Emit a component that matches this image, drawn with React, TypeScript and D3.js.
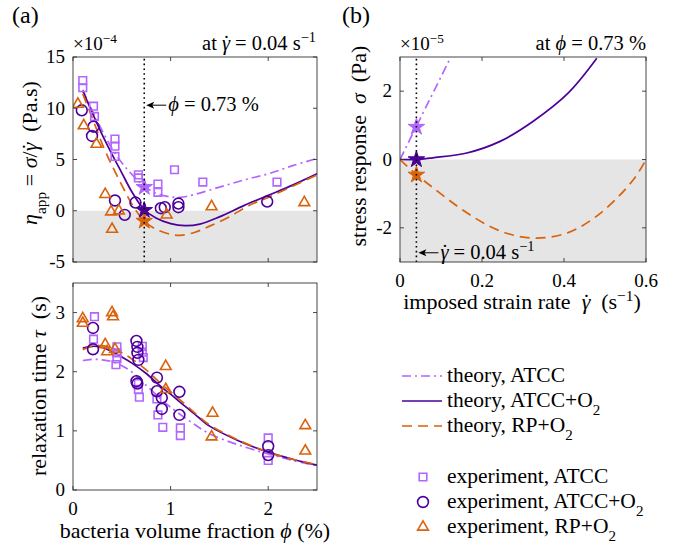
import { useEffect, useRef } from 'react';
import * as d3 from 'd3';

type Pt = [number, number];

// (a) top: apparent viscosity at strain rate 0.04 s^-1, in units of 1e-4 Pa.s
const etaExpATCC: Pt[] = [
  [0.10, 12.7], [0.10, 12.0], [0.21, 10.2], [0.22, 9.2], [0.43, 7.0], [0.43, 6.3],
  [0.43, 5.3], [0.67, 3.5], [0.67, 3.2], [0.87, 2.6], [0.87, 1.8], [1.04, 4.0],
  [1.33, 2.8], [2.09, 2.8]
];
const etaExpATCCO2: Pt[] = [
  [0.09, 9.8], [0.21, 8.2], [0.195, 7.3], [0.43, 1.0], [0.53, -0.4], [0.64, 0.8],
  [0.90, 0.25], [0.94, 0.35], [1.08, 0.7], [1.08, 0.35], [1.99, 0.9]
];
const etaExpRPO2: Pt[] = [
  [0.05, 10.4], [0.11, 8.3], [0.24, 6.5], [0.33, 1.6], [0.39, -0.1], [0.47, 0.0],
  [0.40, -1.8], [0.96, -0.4], [1.42, 0.4], [2.37, 0.8]
];
const etaTheoryATCC: Pt[] = [
  [0.1, 11.8], [0.2, 9.7], [0.3, 7.8], [0.43, 5.6], [0.55, 4.1], [0.66, 3.0], [0.73, 2.4],
  [0.85, 1.7], [1.0, 1.35], [1.1, 1.3], [1.25, 1.6], [1.5, 2.3], [1.75, 3.0], [2.0, 3.6],
  [2.25, 4.4], [2.5, 5.1]
];
const etaTheoryATCCO2: Pt[] = [
  [0.1, 11.7], [0.2, 9.5], [0.3, 7.4], [0.4, 5.5], [0.5, 3.7], [0.6, 1.9], [0.73, 0.1],
  [0.85, -0.7], [1.0, -1.25], [1.15, -1.45], [1.3, -1.3], [1.5, -0.6], [1.75, 0.5],
  [2.0, 1.5], [2.25, 2.5], [2.5, 3.6]
];
const etaTheoryRPO2: Pt[] = [
  [0.1, 11.4], [0.2, 9.0], [0.3, 6.5], [0.4, 4.4], [0.5, 2.5], [0.6, 0.7], [0.73, -1.0],
  [0.85, -1.8], [1.0, -2.3], [1.1, -2.4], [1.25, -2.1], [1.4, -1.5], [1.6, -0.6],
  [1.8, 0.5], [2.0, 1.3], [2.25, 2.4], [2.5, 3.5]
];
const etaStars: Pt[] = [[0.73, 2.3], [0.73, 0.05], [0.73, -1.0]];

// (a) bottom: relaxation time (s)
const tauExpATCC: Pt[] = [
  [0.22, 2.93], [0.21, 2.55], [0.45, 2.42], [0.45, 2.32], [0.45, 2.22], [0.44, 2.12],
  [0.71, 2.43], [0.71, 2.33], [0.72, 2.24], [0.67, 1.80], [0.67, 1.70], [0.68, 1.57],
  [0.86, 1.54], [0.87, 1.27], [0.92, 1.06], [1.10, 1.05], [1.10, 0.92], [2.0, 0.88],
  [2.0, 0.5]
];
const tauExpATCCO2: Pt[] = [
  [0.205, 2.74], [0.205, 2.38], [0.65, 2.52], [0.66, 2.42], [0.66, 2.32], [0.67, 2.20],
  [0.65, 1.84], [0.66, 1.80], [0.86, 1.90], [0.86, 1.67], [0.91, 1.56], [0.91, 1.37],
  [1.09, 1.66], [1.09, 1.27], [2.0, 0.74], [2.0, 0.59]
];
const tauExpRPO2: Pt[] = [
  [0.10, 2.90], [0.10, 2.82], [0.40, 3.0], [0.41, 2.93], [0.33, 2.46], [0.35, 2.34],
  [0.43, 2.38], [0.95, 2.09], [0.95, 1.70], [1.43, 1.30], [1.42, 0.90], [2.38, 1.09],
  [2.38, 0.66]
];
const tauTheoryATCC: Pt[] = [
  [0.1, 2.19], [0.2, 2.21], [0.3, 2.20], [0.4, 2.17], [0.5, 2.10], [0.6, 2.00], [0.75, 1.77],
  [0.9, 1.54], [1.0, 1.40], [1.2, 1.16], [1.4, 0.95], [1.7, 0.76], [2.0, 0.61], [2.25, 0.50],
  [2.5, 0.41]
];
const tauTheoryATCCO2: Pt[] = [
  [0.1, 2.40], [0.2, 2.43], [0.3, 2.41], [0.4, 2.34], [0.5, 2.25], [0.6, 2.15], [0.75, 1.97],
  [0.9, 1.75], [1.0, 1.62], [1.1, 1.48], [1.25, 1.28], [1.4, 1.08], [1.7, 0.83], [2.0, 0.64],
  [2.25, 0.52], [2.5, 0.42]
];
const tauTheoryRPO2: Pt[] = [
  [0.1, 2.37], [0.2, 2.44], [0.3, 2.44], [0.4, 2.40], [0.5, 2.32], [0.6, 2.22], [0.75, 2.03],
  [0.9, 1.80], [1.0, 1.66], [1.1, 1.52], [1.25, 1.30], [1.4, 1.10], [1.7, 0.84], [2.0, 0.64],
  [2.25, 0.52], [2.5, 0.43]
];

// (b): stress response at phi = 0.73 %, in units of 1e-5 Pa
const sigmaTheoryATCC: Pt[] = [[0, 0], [0.04, 0.97], [0.124, 3.0]];
const sigmaTheoryATCCO2: Pt[] = [
  [0, 0], [0.04, 0.0], [0.08, 0.05], [0.163, 0.19], [0.244, 0.53], [0.325, 1.12],
  [0.41, 1.94], [0.48, 2.96]
];
const sigmaTheoryRPO2: Pt[] = [
  [0, 0], [0.04, -0.44], [0.081, -0.83], [0.163, -1.56], [0.244, -2.09], [0.325, -2.3],
  [0.41, -2.14], [0.49, -1.56], [0.57, -0.58], [0.6, 0]
];
const sigmaStars: Pt[] = [[0.04, 0.95], [0.04, 0.0], [0.04, -0.45]];

const phiMark = 0.73;
const rateMark = 0.04;

const colorATCC = '#b266ff';
const colorATCCO2 = '#4c0099';
const colorRPO2 = '#d9620b';
const seriesColors = [colorATCC, colorATCCO2, colorRPO2];
const dashes = ['9,4,2,4', null, '10,6'];
const FONT = "'Liberation Serif', 'DejaVu Serif', serif";
const FS = 19;   // tick labels
const FL = 22;   // axis labels
const FG = 21.5; // legend
const FH = 20.5; // headers and notes

type Part = { t: string; i?: boolean; sup?: boolean; sub?: boolean; dot?: boolean };

function rich(sel: any, parts: Part[], size: number) {
  parts.forEach(p => {
    const ts = sel.append('tspan').text(p.t);
    if (p.i) ts.attr('font-style', 'italic');
    if (p.sup) ts.attr('baseline-shift', 'super').attr('font-size', size * 0.7);
    if (p.sub) ts.attr('baseline-shift', 'sub').attr('font-size', size * 0.7);
    if (p.dot) {
      // dot accent over the previous glyph
      sel.append('tspan').attr('dx', '-0.34em').text('˙');
    }
  });
}

const gdot: Part = { t: 'γ', i: true, dot: true };

export default function App() {
  const svgRef = useRef<SVGSVGElement>(null);

  useEffect(() => {
    if (!svgRef.current) return;
    const svg = d3.select(svgRef.current);
    svg.selectAll('*').remove();
    svg.attr('fill', '#000');

    const defs = svg.append('defs');
    const symSquare = d3.symbol().type(d3.symbolSquare).size(58);
    const symCircle = d3.symbol().type(d3.symbolCircle).size(92);
    const symTriangle = d3.symbol().type(d3.symbolTriangle).size(50);
    const symStar = d3.symbol().type(d3.symbolStar).size(85);
    const markerSyms = [symSquare, symCircle, symTriangle];

    function panel(id: string, box: [number, number, number, number], xDom: [number, number], yDom: [number, number],
      xTicks: number[], yTicks: number[], xLabels: boolean, xFmt: (d: number) => string, yFmt: (d: number) => string,
      shadeNegative: boolean) {
      const [x0, y0, x1, y1] = box;
      const x = d3.scaleLinear().domain(xDom).range([x0, x1]);
      const y = d3.scaleLinear().domain(yDom).range([y1, y0]);
      const g = svg.append('g');
      g.append('rect').attr('x', x0).attr('y', y0).attr('width', x1 - x0).attr('height', y1 - y0).attr('fill', '#fff');
      if (shadeNegative) {
        g.append('rect').attr('x', x0).attr('y', y(0)).attr('width', x1 - x0).attr('height', y1 - y(0))
          .attr('fill', '#e5e5e5');
      }
      defs.append('clipPath').attr('id', id).append('rect')
        .attr('x', x0).attr('y', y0).attr('width', x1 - x0).attr('height', y1 - y0);
      const plot = g.append('g').attr('clip-path', `url(#${id})`);
      const frame = svg.append('g').attr('stroke', '#333').attr('stroke-width', 0.9);
      xTicks.forEach(t => {
        frame.append('line').attr('x1', x(t)).attr('x2', x(t)).attr('y1', y1).attr('y2', y1 - 4);
        frame.append('line').attr('x1', x(t)).attr('x2', x(t)).attr('y1', y0).attr('y2', y0 + 4);
      });
      yTicks.forEach(t => {
        frame.append('line').attr('x1', x0).attr('x2', x0 + 4).attr('y1', y(t)).attr('y2', y(t));
        frame.append('line').attr('x1', x1).attr('x2', x1 - 4).attr('y1', y(t)).attr('y2', y(t));
      });
      frame.append('rect').attr('x', x0).attr('y', y0).attr('width', x1 - x0).attr('height', y1 - y0)
        .attr('fill', 'none');
      yTicks.forEach(t => {
        svg.append('text').attr('x', x0 - 8).attr('y', y(t)).attr('dy', '0.33em')
          .attr('text-anchor', 'end').attr('font-size', FS).text(yFmt(t));
      });
      if (xLabels) {
        xTicks.forEach(t => {
          svg.append('text').attr('x', x(t)).attr('y', y1 + 25)
            .attr('text-anchor', 'middle').attr('font-size', FS).text(xFmt(t));
        });
      }
      return { x, y, plot };
    }

    function curves(p: any, data: Pt[][]) {
      const line = d3.line<Pt>().x(d => p.x(d[0])).y(d => p.y(d[1])).curve(d3.curveCatmullRom.alpha(0.5));
      data.forEach((d, i) => {
        const path = p.plot.append('path').datum(d).attr('fill', 'none')
          .attr('stroke', seriesColors[i]).attr('stroke-width', 1.7).attr('d', line);
        if (dashes[i]) path.attr('stroke-dasharray', dashes[i]);
      });
    }

    function markers(p: any, data: Pt[][]) {
      data.forEach((d, i) => {
        p.plot.selectAll(null).data(d).enter().append('path')
          .attr('transform', (v: Pt) => `translate(${p.x(v[0])},${p.y(v[1])})`)
          .attr('d', markerSyms[i]())
          .attr('fill', 'none').attr('stroke', seriesColors[i]).attr('stroke-width', 1.6);
      });
    }

    function stars(p: any, data: Pt[]) {
      data.forEach((v, i) => {
        p.plot.append('path').attr('transform', `translate(${p.x(v[0])},${p.y(v[1])})`)
          .attr('d', symStar()).attr('fill', seriesColors[i]).attr('stroke', seriesColors[i])
          .attr('stroke-width', 1);
      });
    }

    function dotted(p: any, xv: number) {
      const [ya, yb] = p.y.range();
      p.plot.append('line').attr('x1', p.x(xv)).attr('x2', p.x(xv)).attr('y1', ya).attr('y2', yb)
        .attr('stroke', '#000').attr('stroke-width', 1.6).attr('stroke-dasharray', '1.6,3.2');
    }

    function arrow(xTip: number, yv: number, len: number) {
      svg.append('line').attr('x1', xTip + 5).attr('x2', xTip + len).attr('y1', yv).attr('y2', yv)
        .attr('stroke', '#000').attr('stroke-width', 1);
      svg.append('path').attr('d', `M${xTip},${yv}L${xTip + 8},${yv - 3.5}L${xTip + 6},${yv}L${xTip + 8},${yv + 3.5}Z`)
        .attr('fill', '#000');
    }

    const fmtInt = (d: number) => (d < 0 ? '-' + Math.abs(d) : String(d));

    // (a) top: apparent viscosity
    const pa = panel('clipA', [73, 57, 317, 262], [0, 2.5], [-5, 15], [0, 1, 2], [-5, 0, 5, 10, 15],
      false, fmtInt, fmtInt, true);
    curves(pa, [etaTheoryATCC, etaTheoryATCCO2, etaTheoryRPO2]);
    markers(pa, [etaExpATCC, etaExpATCCO2, etaExpRPO2]);
    stars(pa, etaStars);
    dotted(pa, phiMark);

    // (a) bottom: relaxation time
    const pt = panel('clipT', [73, 283, 317, 490], [0, 2.5], [0, 3.5], [0, 1, 2], [0, 1, 2, 3],
      true, fmtInt, fmtInt, false);
    curves(pt, [tauTheoryATCC, tauTheoryATCCO2, tauTheoryRPO2]);
    markers(pt, [tauExpATCC, tauExpATCCO2, tauExpRPO2]);

    // (b) stress response
    const pb = panel('clipB', [400, 57, 646, 262], [0, 0.6], [-3, 3], [0, 0.2, 0.4, 0.6], [-2, 0, 2],
      true, d => (d === 0 ? '0' : String(d)), fmtInt, true);
    curves(pb, [sigmaTheoryATCC, sigmaTheoryATCCO2, sigmaTheoryRPO2]);
    stars(pb, sigmaStars);
    dotted(pb, rateMark);

    // panel letters
    svg.append('text').attr('x', 12).attr('y', 23).attr('font-size', 24).text('(a)');
    svg.append('text').attr('x', 342).attr('y', 23).attr('font-size', 24).text('(b)');

    // exponent and condition headers
    rich(svg.append('text').attr('x', 73).attr('y', 50).attr('font-size', FS),
      [{ t: '×10' }, { t: '−4', sup: true }], FS);
    rich(svg.append('text').attr('x', 316).attr('y', 50).attr('font-size', FH).attr('text-anchor', 'end'),
      [{ t: 'at ' }, gdot, { t: ' = 0.04 s' }, { t: '−1', sup: true }], FH);
    rich(svg.append('text').attr('x', 400).attr('y', 50).attr('font-size', FS),
      [{ t: '×10' }, { t: '−5', sup: true }], FS);
    rich(svg.append('text').attr('x', 646).attr('y', 50).attr('font-size', FH).attr('text-anchor', 'end'),
      [{ t: 'at ' }, { t: 'ϕ', i: true }, { t: ' = 0.73 %' }], FH);

    // arrow annotations
    const ya = pa.y(10.3);
    arrow(pa.x(phiMark) + 2, ya, 20);
    rich(svg.append('text').attr('x', pa.x(phiMark) + 24).attr('y', ya + 6).attr('font-size', FH),
      [{ t: 'ϕ', i: true }, { t: ' = 0.73 %' }], FH);
    const yb = pb.y(-2.73);
    arrow(pb.x(rateMark) + 2, yb, 20);
    rich(svg.append('text').attr('x', pb.x(rateMark) + 24).attr('y', yb + 6).attr('font-size', FH),
      [gdot, { t: ' = 0.04 s' }, { t: '−1', sup: true }], FH);

    // axis labels
    const ylab = (cx: number, cy: number, parts: Part[]) =>
      rich(svg.append('text').attr('transform', `translate(${cx},${cy}) rotate(-90)`)
        .attr('text-anchor', 'middle').attr('font-size', FL), parts, FL);
    ylab(37, 153, [{ t: 'η', i: true }, { t: 'app', sub: true }, { t: ' = ' }, { t: 'σ', i: true }, { t: '/' },
      gdot, { t: '\u00a0\u00a0(Pa.s)' }]);
    ylab(46, 386, [{ t: 'relaxation time ' }, { t: 'τ', i: true }, { t: '\u00a0\u00a0(s)' }]);
    ylab(366, 146, [{ t: 'stress response\u00a0\u00a0' }, { t: 'σ', i: true }, { t: '\u00a0\u00a0(Pa)' }]);

    rich(svg.append('text').attr('x', 195).attr('y', 538).attr('text-anchor', 'middle').attr('font-size', FL),
      [{ t: 'bacteria volume fraction ' }, { t: 'ϕ', i: true }, { t: ' (%)' }], FL);
    rich(svg.append('text').attr('x', 522).attr('y', 309).attr('text-anchor', 'middle').attr('font-size', FL),
      [{ t: 'imposed strain rate\u00a0\u00a0' }, gdot, { t: '\u00a0\u00a0(s' }, { t: '−1', sup: true }, { t: ')' }], FL);

    // legend
    const theoryNames: Part[][] = [
      [{ t: 'theory, ATCC' }],
      [{ t: 'theory, ATCC+O' }, { t: '2', sub: true }],
      [{ t: 'theory, RP+O' }, { t: '2', sub: true }]
    ];
    const expNames: Part[][] = [
      [{ t: 'experiment, ATCC' }],
      [{ t: 'experiment, ATCC+O' }, { t: '2', sub: true }],
      [{ t: 'experiment, RP+O' }, { t: '2', sub: true }]
    ];
    const leg = svg.append('g');
    theoryNames.forEach((parts, i) => {
      const yy = 376 + i * 25;
      const l = leg.append('line').attr('x1', 402).attr('x2', 442).attr('y1', yy).attr('y2', yy)
        .attr('stroke', seriesColors[i]).attr('stroke-width', 1.7);
      if (dashes[i]) l.attr('stroke-dasharray', dashes[i]);
      rich(leg.append('text').attr('x', 447).attr('y', yy + 6).attr('font-size', FG), parts, FG);
    });
    expNames.forEach((parts, i) => {
      const yy = 477 + i * 25;
      leg.append('path').attr('transform', `translate(423,${yy})`).attr('d', markerSyms[i]())
        .attr('fill', 'none').attr('stroke', seriesColors[i]).attr('stroke-width', 1.6);
      rich(leg.append('text').attr('x', 447).attr('y', yy + 6).attr('font-size', FG), parts, FG);
    });
  }, []);

  return (
    <div style={{ position: 'absolute', left: 0, top: 0 }}>
      <svg ref={svgRef} width={688} height={548}
        style={{ display: 'block', background: '#fff', fontFamily: FONT }} />
    </div>
  );
}
